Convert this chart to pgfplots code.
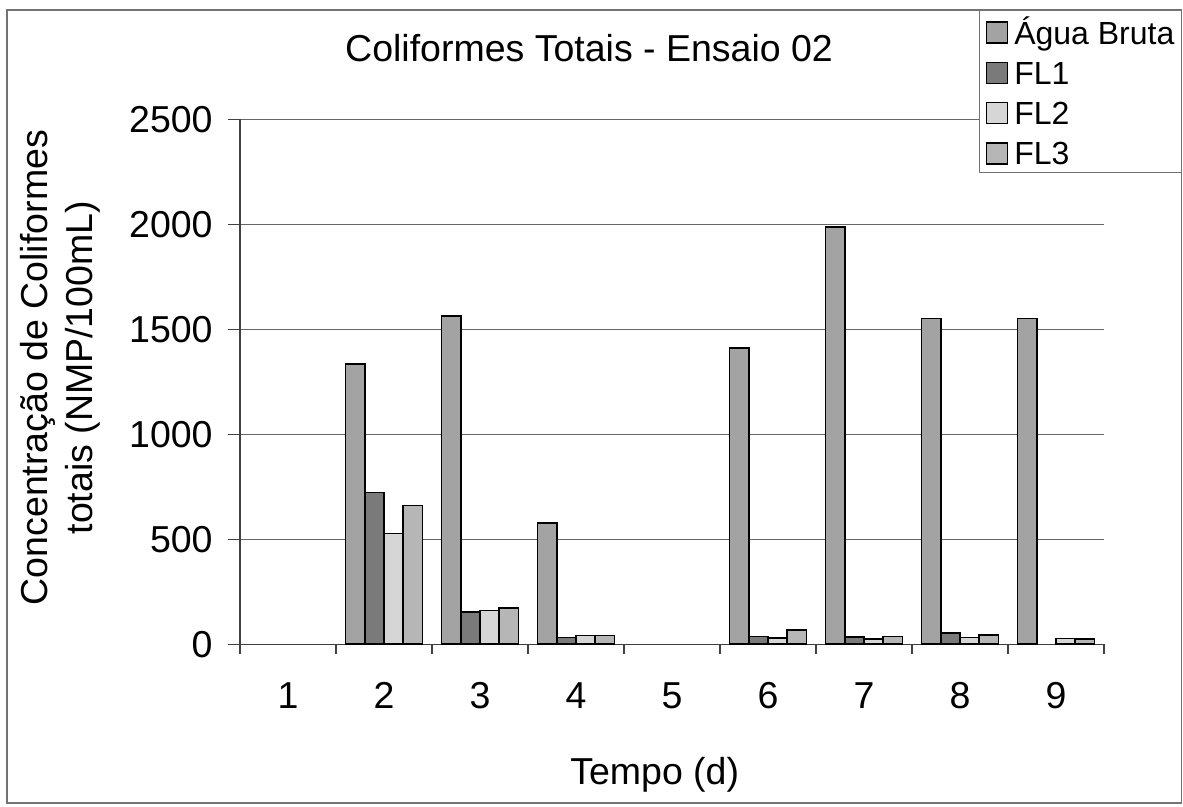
\documentclass[border=0pt]{standalone}
\usepackage{fontspec}
\setmainfont{Liberation Sans}
\usepackage{pgfplots}
\pgfplotsset{compat=1.18}

\definecolor{cAB}{HTML}{A3A3A3}
\definecolor{cFLa}{HTML}{7A7A7A}
\definecolor{cFLb}{HTML}{D6D6D6}
\definecolor{cFLc}{HTML}{B6B6B6}

\begin{document}
\begin{tikzpicture}
\useasboundingbox (0,0) rectangle (591.5pt,403.5pt);
% outer chart frame
\draw[black!55, line width=0.6pt] (3.5pt,2pt) rectangle (590.8pt,398.5pt);
\begin{axis}[
  at={(120pt,81.35pt)}, anchor=south west,
  scale only axis, width=432pt, height=262.5pt,
  xmin=0.5, xmax=9.5, ymin=0, ymax=2500,
  axis lines=left,
  axis line style={-, black!75, line width=0.6pt},
  tick align=outside,
  xtick={1,2,3,4,5,6,7,8,9},
  xticklabels={1,2,3,4,5,6,7,8,9},
  major x tick style={draw=none},
  minor xtick={0.5,1.5,2.5,3.5,4.5,5.5,6.5,7.5,8.5,9.5},
  minor tick length=5pt,
  major tick length=6pt,
  tick style={black!75, line width=0.6pt},
  ytick={0,500,1000,1500,2000,2500},
  ymajorgrids,
  grid style={black!60, line width=0.5pt},
  scaled y ticks=false,
  /pgf/number format/assume math mode=true,
  /pgf/number format/1000 sep={},
  ticklabel style={font=\fontsize{18.75}{22}\selectfont},
  xticklabel style={anchor=base, inner sep=0pt, yshift=-26.2pt},
  yticklabel style={anchor=east, inner sep=0pt, xshift=-7.5pt},
  title={Coliformes Totais - Ensaio 02},
  title style={at={(axis description cs:0.404,1.088)}, anchor=base, inner sep=0pt,
    font=\fontsize{18.75}{22.5}\selectfont},
  xlabel={Tempo (d)},
  xlabel style={at={(axis description cs:0.480,-0.268)}, anchor=base, inner sep=0pt,
    font=\fontsize{18.75}{22.5}\selectfont},
  ylabel={Concentração de Coliformes\\totais (NMP/100mL)},
  ylabel style={at={(axis description cs:-0.2083,0.527)}, anchor=center, align=center,
    inner sep=0pt, font=\fontsize{18.75}{22.5}\selectfont},
  ybar=0pt, bar width=9.625pt,
  legend style={at={(axis description cs:1.0903,1.2082)}, anchor=north east,
    draw=black!55, line width=0.6pt, font=\fontsize{16}{19}\selectfont,
    inner xsep=3.5pt, inner ysep=0.5pt, row sep=0.65pt, column sep=3pt,
    nodes={inner sep=0pt, text height=16.25pt, text depth=3.25pt}},
  legend cell align=left,
  legend image code/.code={\draw[#1, line width=0.6pt] (0pt,-6pt) rectangle (10.5pt,4.5pt);},
]
\addplot[fill=cAB, draw=black, line width=0.8pt]
  coordinates {(2,1335) (3,1563) (4,579) (6,1412) (7,1986) (8,1552) (9,1552)};
\addplot[fill=cFLa, draw=black, line width=0.8pt]
  coordinates {(2,722) (3,155) (4,33) (6,38) (7,34) (8,55)};
\addplot[fill=cFLb, draw=black, line width=0.8pt]
  coordinates {(2,528) (3,160) (4,42) (6,30) (7,26) (8,32) (9,28)};
\addplot[fill=cFLc, draw=black, line width=0.8pt]
  coordinates {(2,660) (3,172) (4,42) (6,68) (7,38) (8,44) (9,24)};
\legend{Água Bruta, FL1, FL2, FL3}
\end{axis}
\end{tikzpicture}
\end{document}
